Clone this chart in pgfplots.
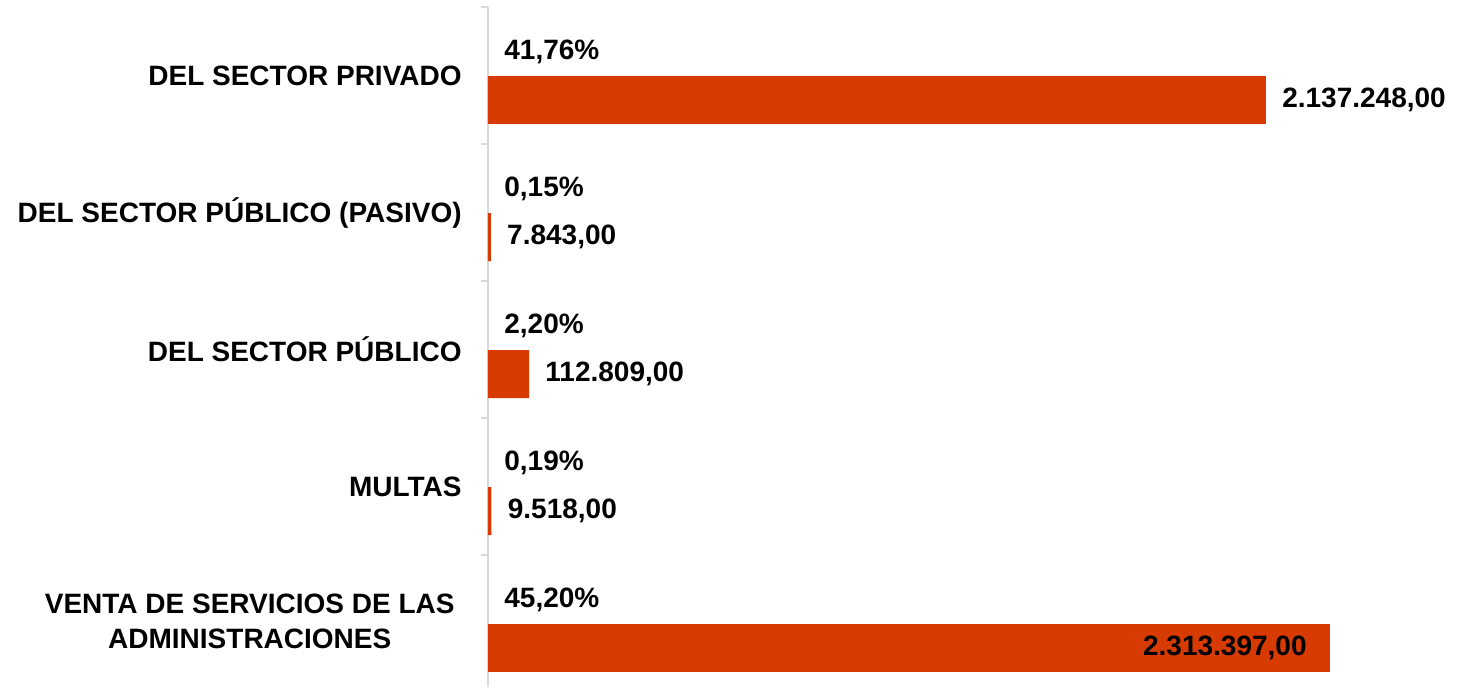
\documentclass[border=0pt]{standalone}
\usepackage{fontspec}
\setmainfont{Liberation Sans}
\usepackage{pgfplots}
\usepackage{pgfplotstable}
\pgfplotsset{compat=1.18}
\definecolor{barc}{HTML}{D83B01}
\definecolor{axc}{HTML}{D9D9D9}
\pgfplotstableread{
pos val lab
0.179 2137248 {2.137.248,00}
1.179 7843 {7.843,00}
2.179 112809 {112.809,00}
3.179 9518 {9.518,00}
}\tbar
\pgfplotstableread{
pos val lab
4.179 2313397 {2.313.397,00}
}\tlast
\pgfplotstableread{
pos val lab
-0.175 0 {41,76\%}
0.825 0 {0,15\%}
1.825 0 {2,20\%}
2.825 0 {0,19\%}
3.825 0 {45,20\%}
}\tpct
\begin{document}
\begin{tikzpicture}
\useasboundingbox (-244pt,0pt) rectangle (494pt,343.5pt);
\begin{axis}[
  at={(0pt,0pt)}, anchor=south west,
  scale only axis, width=494pt, height=340pt,
  xmin=0, xmax=2714530,
  ymin=-0.5, ymax=4.4635, y dir=reverse,
  axis x line=none,
  axis y line*=left,
  y axis line style={draw=axc, line width=1pt},
  ytick={0,1,2,3,4},
  yticklabels={DEL SECTOR PRIVADO, DEL SECTOR PÚBLICO (PASIVO), DEL SECTOR PÚBLICO, MULTAS, {\begin{tabular}{@{}c@{}}VENTA DE SERVICIOS DE LAS\\ADMINISTRACIONES\end{tabular}\kern3.5pt}},
  yticklabel style={font=\bfseries\fontsize{14}{17.5}\selectfont, anchor=east, inner sep=0pt, xshift=-13pt},
  major tick length=0pt,
  minor ytick={-0.5,0.5,1.5,2.5,3.5},
  minor tick length=3.5pt,
  tick align=outside,
  minor tick style={draw=axc, line width=1pt},
  clip=false,
  point meta=explicit symbolic,
  nodes near coords,
  every node near coord/.append style={font=\bfseries\fontsize{14}{17}\selectfont, text=black, inner sep=0pt},
]
\addplot[xbar, bar width=0.35, fill=barc, draw=none, bar shift=0pt,
  nodes near coords style={anchor=west, xshift=8pt}]
  table[x=val, y=pos, meta=lab]{\tbar};
\addplot[xbar, bar width=0.35, fill=barc, draw=none, bar shift=0pt,
  nodes near coords style={anchor=east, xshift=-11.5pt}]
  table[x=val, y=pos, meta=lab]{\tlast};
\addplot[draw=none, mark=none,
  nodes near coords style={anchor=west, xshift=8pt}]
  table[x=val, y=pos, meta=lab]{\tpct};
\end{axis}
\end{tikzpicture}
\end{document}
